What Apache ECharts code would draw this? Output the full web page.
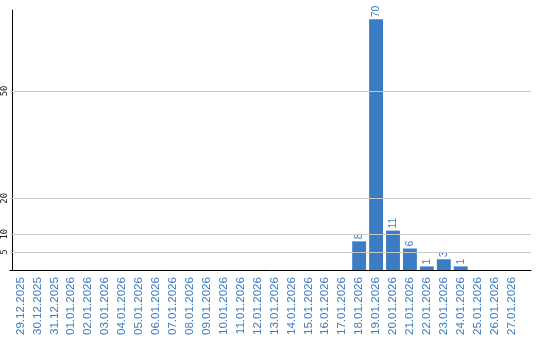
<!DOCTYPE html>
<html><head><meta charset="utf-8">
<script src="https://cdn.jsdelivr.net/npm/echarts@6/dist/echarts.min.js"></script>
<style>html,body{margin:0;padding:0;background:#fff}#c{width:540px;height:340px}</style>
</head><body><div id="c"></div>
<script>
const categories = ['29.12.2025','30.12.2025','31.12.2025','01.01.2026','02.01.2026','03.01.2026','04.01.2026','05.01.2026','06.01.2026','07.01.2026','08.01.2026','09.01.2026','10.01.2026','11.01.2026','12.01.2026','13.01.2026','14.01.2026','15.01.2026','16.01.2026','17.01.2026','18.01.2026','19.01.2026','20.01.2026','21.01.2026','22.01.2026','23.01.2026','24.01.2026','25.01.2026','26.01.2026','27.01.2026'];
const values = [null,null,null,null,null,null,null,null,null,null,null,null,null,null,null,null,null,null,null,null,8,70,11,6,1,3,1,null,null,null];
const yTicks = [5,10,20,50];
const yMax = 72.6;

const blue = '#3b7dc4';
const chart = echarts.init(document.getElementById('c'));
chart.setOption({
  animation: false,
  grid: [
    {left: 10, top: 10, width: 510, bottom: 70, containLabel: false},
    {left: 10, top: 10, right: 9, bottom: 70, containLabel: false}
  ],
  xAxis: [
    {type: 'category', gridIndex: 0, data: categories,
     axisLine: {show: false}, axisTick: {show: false},
     axisLabel: {rotate: 90, interval: 0, color: blue, fontFamily: 'Liberation Sans', fontSize: 11.6, margin: 7}},
    {type: 'value', gridIndex: 1, min: 0, max: 1,
     axisLine: {show: true, onZero: false, lineStyle: {color: '#000', width: 1}},
     axisTick: {show: false}, axisLabel: {show: false}, splitLine: {show: false}}
  ],
  yAxis: [
    {type: 'value', gridIndex: 0, min: 0, max: yMax,
     axisLine: {show: true, lineStyle: {color: '#000', width: 1}},
     axisTick: {show: false}, splitLine: {show: false},
     axisLabel: {customValues: yTicks, rotate: 90, color: '#222', fontFamily: 'DejaVu Sans Mono', fontSize: 9, margin: 3}},
    {type: 'value', gridIndex: 1, min: 0, max: yMax,
     axisLine: {show: false}, axisTick: {show: false}, axisLabel: {show: false}, splitLine: {show: false}}
  ],
  series: [
    {type: 'line', xAxisIndex: 1, yAxisIndex: 1, data: [], silent: true, z: 1,
     markLine: {silent: true, symbol: 'none', label: {show: false},
       lineStyle: {color: '#c8c8c8', type: 'solid', width: 1},
       data: yTicks.map(v => ({yAxis: v}))}},
    {type: 'bar', xAxisIndex: 0, yAxisIndex: 0, data: values, z: 3,
     barCategoryGap: '18%',
     itemStyle: {color: blue},
     label: {show: true, position: 'top', rotate: 90, align: 'left', verticalAlign: 'middle',
       distance: 2, color: blue, fontFamily: 'Liberation Sans', fontSize: 10.5}}
  ]
});
</script></body></html>
